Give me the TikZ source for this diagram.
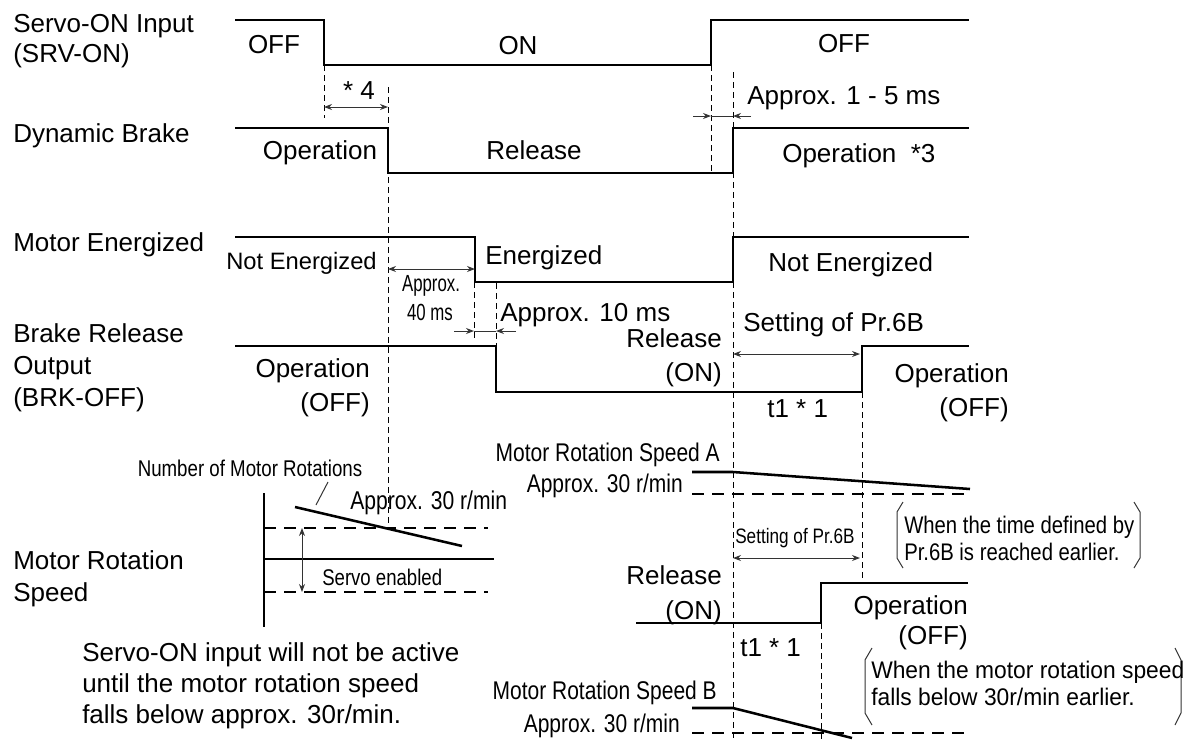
\documentclass[tikz,border=0pt]{standalone}
\usepackage{fontspec}
\setmainfont{Liberation Sans}
\newfontfamily\nar{Liberation Sans}[FakeStretch=0.82]
\newfontfamily\narC{Liberation Sans}[FakeStretch=0.72]
\newfontfamily\narA{Liberation Sans}[FakeStretch=0.845]
\newfontfamily\narB{Liberation Sans}[FakeStretch=0.95]
\usetikzlibrary{arrows.meta}
\begin{document}
\begin{tikzpicture}[x=0.75pt,y=-0.75pt,
  txt/.style={inner sep=0pt, font=\fontsize{19.5}{22}\selectfont},
  stxt/.style={inner sep=0pt, font=\fontsize{17.8}{20}\selectfont},
  ntxt/.style={inner sep=0pt, font=\nar\fontsize{#1}{#1}\selectfont},
  ctxt/.style={inner sep=0pt, font=\narC\fontsize{17.5}{17.5}\selectfont},
  atxt/.style={inner sep=0pt, font=\narA\fontsize{18}{18}\selectfont},
  btxt/.style={inner sep=0pt, font=\narB\fontsize{18}{18}\selectfont},
  sig/.style={line width=1.9pt, line join=miter, line cap=butt},
  vdash/.style={line width=0.75pt, dash pattern=on 4.5pt off 3pt},
  hdash/.style={line width=1.9pt, dash pattern=on 9pt off 6pt},
  thinln/.style={line width=0.75pt, draw=black!80},
  dimarr/.style={thinln, {Stealth[length=6pt,width=4.5pt]}-{Stealth[length=6pt,width=4.5pt]}},
  onearr/.style={thinln, -{Stealth[length=6pt,width=4.5pt]}}
]
\useasboundingbox (0,0) rectangle (1183,740);

% ---- left labels ----
\node[txt, anchor=base west] (l1) at (13,32) {Servo-ON Input};
\node[txt, anchor=base west] (l2) at (13,62) {(SRV-ON)};
\node[txt, anchor=base west] (l3) at (13,142) {Dynamic Brake};
\node[txt, anchor=base west] (l4) at (13,251) {Motor Energized};
\node[txt, anchor=base west] (l5) at (13,342) {Brake Release};
\node[txt, anchor=base west] (l6) at (13,374) {Output};
\node[txt, anchor=base west] (l7) at (13,406) {(BRK-OFF)};
\node[txt, anchor=base west] (l8) at (13,569) {Motor Rotation};
\node[txt, anchor=base west] (l9) at (13,601) {Speed};

% ---- waveforms ----
\draw[sig] (235,20) -- (324,20) -- (324,65) -- (711,65) -- (711,20) -- (969,20);
\draw[sig] (235,128) -- (388,128) -- (388,173) -- (733,173) -- (733,128) -- (969,128);
\draw[sig] (235,237) -- (475,237) -- (475,282) -- (733,282) -- (733,237) -- (969,237);
\draw[sig] (235,346) -- (496,346) -- (496,392) -- (862,392) -- (862,346) -- (969,346);
\draw[sig] (636,623) -- (821,623) -- (821,583) -- (968,583);

% speed A / B
\draw[sig] (692,472) -- (733,472) -- (970,489);
\draw[hdash] (692,494) -- (970,494);
\draw[sig] (692,708) -- (733,708) -- (852,738);
\draw[hdash] (692,733) -- (969,733);

% left speed sketch
\draw[sig] (264,493) -- (264,627);
\draw[hdash] (264,528) -- (488,528);
\draw[sig] (264,559) -- (494,559);
\draw[hdash] (264,592) -- (488,592);
\draw[sig] (295,507) -- (462,546);
\draw[thinln] (316,505) -- (328,482);
\draw[dimarr] (302,528) -- (302,592);

% ---- dashed verticals ----
\draw[vdash] (324,65) -- (324,118);
\draw[vdash] (388,87) -- (388,528);
\draw[vdash] (474,282) -- (474,340);
\draw[vdash] (496,283) -- (496,346);
\draw[vdash] (711,65) -- (711,173);
\draw[vdash] (733,72) -- (733,740);
\draw[vdash] (862,392) -- (862,580);
\draw[vdash] (821,623) -- (821,740);

% ---- dimension arrows ----
\draw[dimarr] (324,107) -- (388,107);
\draw[onearr] (693,116) -- (711,116);
\draw[onearr] (751,116) -- (733,116);
\draw[thinln] (711,116) -- (733,116);
\draw[dimarr] (388,269) -- (475,269);
\draw[onearr] (454,331) -- (474,331);
\draw[onearr] (516,331) -- (496,331);
\draw[thinln] (474,331) -- (496,331);
\draw[dimarr] (733,354) -- (860,354);
\draw[dimarr] (733,558) -- (860,558);

% ---- brackets ----
\draw[thinln] (903,502) -- (897,512) -- (897,558) -- (903,568);
\draw[thinln] (1134,502) -- (1140,512) -- (1140,558) -- (1134,568);
\draw[thinln] (872,648) -- (865,660) -- (865,713) -- (872,725);
\draw[thinln] (1175,648) -- (1181,660) -- (1181,713) -- (1175,725);

% ---- signal labels ----
\node[txt, anchor=base] (s1) at (274,53) {OFF};
\node[txt, anchor=base] (s2) at (518,54) {ON};
\node[txt, anchor=base] (s3) at (844,52) {OFF};
\node[txt, anchor=base] (s4) at (359,99) {* 4};
\node[txt, anchor=base] (s5) at (320,159) {Operation};
\node[txt, anchor=base] (s6) at (534,159) {Release};
\node[txt, anchor=base west] (s7) at (747,104) {Approx. 1 - 5 ms};
\node[txt, anchor=base west] (s8) at (782,162) {Operation\ \ *3};
\node[stxt, anchor=base east] (s9) at (377,269) {Not Energized};
\node[txt, anchor=base west] (s10) at (485,264) {Energized};
\node[txt, anchor=base west] (s11) at (768,271) {Not Energized};
\node[ctxt, anchor=base] (s12) at (431,291) {Approx.};
\node[ctxt, anchor=base] (s13) at (430,320) {40 ms};
\node[txt, anchor=base west] (s14) at (500,321) {Approx. 10 ms};
\node[txt, anchor=base east] (s15) at (722,347) {Release};
\node[txt, anchor=base east] (s16) at (722,381) {(ON)};
\node[txt, anchor=base west] (s17) at (743,331) {Setting of Pr.6B};
\node[txt, anchor=base east] (s18) at (370,377) {Operation};
\node[txt, anchor=base east] (s19) at (370,411) {(OFF)};
\node[txt, anchor=base east] (s20) at (1009,382) {Operation};
\node[txt, anchor=base east] (s21) at (1009,416) {(OFF)};
\node[txt, anchor=base west] (s22) at (767,417) {t1 * 1};

% ---- speed area labels ----
\node[ntxt=17.1, anchor=base] (r1) at (250,476) {Number of Motor Rotations};
\node[ntxt=19.3, anchor=base west] (r2) at (350,509) {Approx. 30 r/min};
\node[ntxt=17, anchor=base west] (r3) at (322,585) {Servo enabled};
\node[txt, anchor=base west] (r4) at (82,661) {Servo-ON input will not be active};
\node[txt, anchor=base west] (r5) at (82,692) {until the motor rotation speed};
\node[txt, anchor=base west] (r6) at (82,723) {falls below approx. 30r/min.};

\node[ntxt=19.2, anchor=base east] (a1) at (720,461) {Motor Rotation Speed A};
\node[ntxt=19.2, anchor=base east] (a2) at (683,492) {Approx. 30 r/min};
\node[ntxt=15.7, anchor=base west] (a3) at (735,543) {Setting of Pr.6B};
\node[txt, anchor=base east] (a4) at (722,584) {Release};
\node[txt, anchor=base east] (a5) at (722,619) {(ON)};
\node[txt, anchor=base east] (a6) at (968,614) {Operation};
\node[txt, anchor=base east] (a7) at (968,644) {(OFF)};
\node[txt, anchor=base west] (a8) at (740,656) {t1 * 1};
\node[ntxt=19.2, anchor=base east] (b1) at (717,699) {Motor Rotation Speed B};
\node[ntxt=19.2, anchor=base east] (b2) at (680,732) {Approx. 30 r/min};

\node[atxt, anchor=base west] (c1) at (904,533) {When the time defined by};
\node[atxt, anchor=base west] (c2) at (904,560) {Pr.6B is reached earlier.};
\node[btxt, anchor=base west] (c3) at (871,678) {When the motor rotation speed};
\node[btxt, anchor=base west] (c4) at (871,705) {falls below 30r/min earlier.};
\end{tikzpicture}
\end{document}
